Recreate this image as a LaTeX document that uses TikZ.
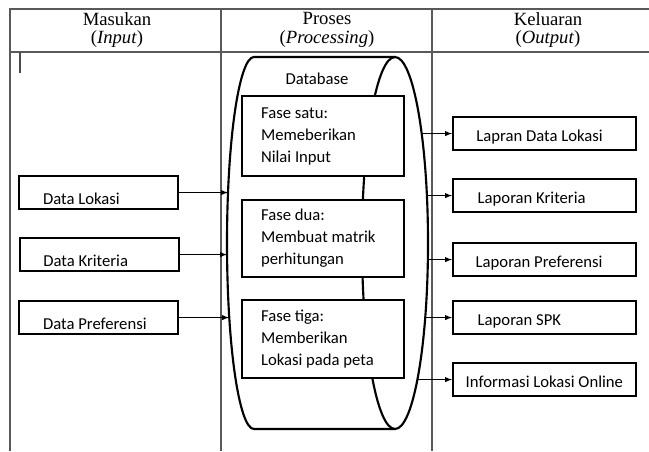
\documentclass[tikz,border=0pt]{standalone}
\usepackage{fontspec}
\setmainfont{Liberation Serif}
\newfontfamily\boxfont{Carlito}
\usepackage{tikz}
\usetikzlibrary{shapes, arrows, positioning, calc}
\def\pxu{0.75pt}
\tikzset{
    grid/.style={
        draw=black!65,
        line width=0.9pt,
    },
    head/.style={
        align=center,
        font=\fontsize{14}{14}\selectfont,
    },
    drum/.style={
        draw=black,
        line width=1.6pt,
    },
    inbox/.style={
        rectangle,
        draw=black,
        line width=1.6pt,
        anchor=north west,
        text width=159*\pxu,
        inner xsep=0pt,
        inner ysep=0pt,
        align=flush left,
        text height=21pt,
        text depth=3.75pt,
        font=\boxfont\fontsize{12.5}{15}\selectfont,
    },
    outbox/.style={
        inbox,
        text width=183*\pxu,
        text height=18pt,
        text depth=6.75pt,
    },
    fase/.style={
        rectangle,
        draw=black,
        fill=white,
        line width=1.6pt,
        anchor=north west,
        text width=124*\pxu,
        inner xsep=19*\pxu,
        align=flush left,
        font=\boxfont\fontsize{12.5}{16.5}\selectfont,
    },
    flow/.style={
        ->,
        line width=0.8pt,
    },
}

\begin{document}
\begin{tikzpicture}[x=0.75pt, y=-0.75pt, >=latex]
    \useasboundingbox (0,0) rectangle (649,451);

    % table
    \draw[grid] (649,9) -- (10,9) -- (10,451);
    \draw[grid] (10,52) -- (649,52);
    \draw[grid] (221,9) -- (221,451);
    \draw[grid] (432,9) -- (432,451);
    \draw[black!70, line width=1.5pt] (20,52) -- (20,73);

    \node [head] (h1) at (117,30) {Masukan\\(\textit{Input})};
    \node [head] (h2) at (327,30) {Proses\\(\textit{Processing})};
    \node [head] (h3) at (548,30) {Keluaran\\(\textit{Output})};

    % database
    \draw[drum] (395,57) -- (254,57) arc[start angle=270, end angle=90, x radius=27, y radius=186] -- (395,429);
    \draw[drum] (395,243) ellipse[x radius=33, y radius=186];
    \node (db) at (317,79) {\boxfont\fontsize{12.5}{15}\selectfont Database};

    \node [fase, minimum height=80*\pxu] (p1) at (241,95) {Fase satu:\\Memeberikan\\Nilai Input};
    \node [fase, minimum height=77*\pxu] (p2) at (241,199) {Fase dua:\\Membuat matrik\\perhitungan};
    \node [fase, minimum height=78*\pxu] (p3) at (241,299) {Fase tiga:\\Memberikan\\Lokasi pada peta};

    % input
    \node [inbox] (d1) at (18,175) {\hspace*{18pt}Data Lokasi};
    \node [inbox] (d2) at (19,237) {\hspace*{17.5pt}Data Kriteria};
    \node [inbox] (d3) at (18,300) {\hspace*{18pt}Data Preferensi};

    \coordinate (l1) at (228,0);
    \coordinate (l2) at (227,0);
    \coordinate (l3) at (229,0);

    \foreach \n in {1,2,3}
        \draw[flow] (d\n.east) -- (d\n.east -| l\n);

    % output
    \node [outbox] (o1) at (452,116) {\hspace*{17.5pt}Lapran Data Lokasi};
    \node [outbox] (o2) at (452,178) {\hspace*{18.5pt}Laporan Kriteria};
    \node [outbox] (o3) at (452,242) {\hspace*{17pt}Laporan Preferensi};
    \node [outbox] (o4) at (452,300) {\hspace*{18.5pt}Laporan SPK};
    \node [outbox] (o5) at (452,362) {\hspace*{9.5pt}Informasi Lokasi Online};

    \coordinate (r1) at (421.5,0);
    \coordinate (r2) at (426.9,0);
    \coordinate (r3) at (427.9,0);
    \coordinate (r4) at (425.4,0);
    \coordinate (r5) at (417.6,0);

    \foreach \n in {1,...,5}
        \draw[flow] (r\n |- o\n.west) -- (o\n.west);
\end{tikzpicture}
\end{document}
